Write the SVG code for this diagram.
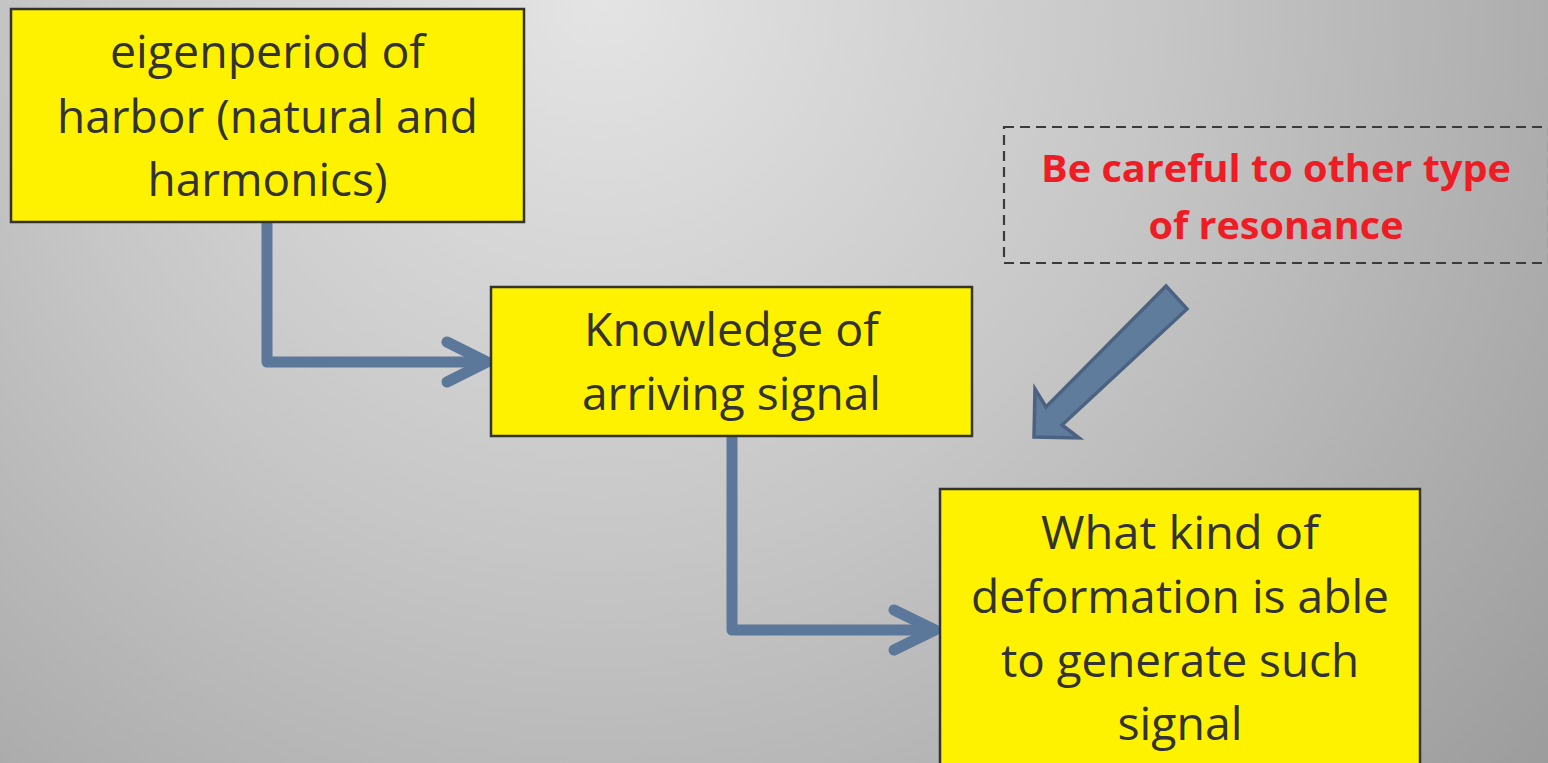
<svg xmlns="http://www.w3.org/2000/svg" width="1548" height="763" viewBox="0 0 1548 763">
<defs>
<radialGradient id="bg" cx="600" cy="0" r="1250" gradientUnits="userSpaceOnUse">
<stop offset="0" stop-color="#e4e4e4"/>
<stop offset="0.45" stop-color="#c6c6c6"/>
<stop offset="1" stop-color="#9a9a9a"/>
</radialGradient>
<style>
.box{fill:#fff200;stroke:#333;stroke-width:2.5}
.t{font-family:"Open Sans","Noto Sans",sans-serif;font-size:45px;fill:#333;text-anchor:middle}
.r{font-family:"Open Sans","Noto Sans",sans-serif;font-size:38px;font-weight:bold;fill:#ee1c25;text-anchor:middle}
.c{fill:none;stroke:#5b7799;stroke-width:11;stroke-linecap:round;stroke-linejoin:round}
</style>
</defs>
<rect width="1548" height="763" fill="url(#bg)"/>
<g id="connectors">
<polyline class="c" points="267,224 267,362 486,362"/>
<polyline class="c" points="447,342 487,362 447,382"/>
<polyline class="c" points="732,438 732,630 934,630"/>
<polyline class="c" points="894,610 935,630 894,650"/>
<polygon points="1166,286 1187,309 1062,425 1079,438 1034,437 1035,389 1046,407" fill="#607c9c" stroke="#4b6380" stroke-width="3.5" stroke-linejoin="miter"/>
</g>
<g id="n1">
<rect class="box" x="11" y="9" width="513" height="213"/>
<text class="t" x="267.5" y="68" textLength="315" lengthAdjust="spacingAndGlyphs">eigenperiod of</text>
<text class="t" x="267.5" y="133" textLength="421" lengthAdjust="spacingAndGlyphs">harbor (natural and</text>
<text class="t" x="267.5" y="196" textLength="240" lengthAdjust="spacingAndGlyphs">harmonics)</text>
</g>
<g id="n2">
<rect class="box" x="491" y="287" width="481" height="149"/>
<text class="t" x="731.5" y="346" textLength="295" lengthAdjust="spacingAndGlyphs">Knowledge of</text>
<text class="t" x="731.5" y="410" textLength="299" lengthAdjust="spacingAndGlyphs">arriving signal</text>
</g>
<g id="n3">
<rect class="box" x="940" y="489" width="480" height="290"/>
<text class="t" x="1180" y="549" textLength="278" lengthAdjust="spacingAndGlyphs">What kind of</text>
<text class="t" x="1180" y="613" textLength="418" lengthAdjust="spacingAndGlyphs">deformation is able</text>
<text class="t" x="1180" y="677" textLength="358" lengthAdjust="spacingAndGlyphs">to generate such</text>
<text class="t" x="1180" y="740" textLength="125" lengthAdjust="spacingAndGlyphs">signal</text>
</g>
<g id="note">
<rect x="1004" y="127" width="545" height="136" fill="none" stroke="#3a3a3a" stroke-width="2.2" stroke-dasharray="10,6"/>
<text class="r" x="1276" y="182" textLength="470" lengthAdjust="spacingAndGlyphs">Be careful to other type</text>
<text class="r" x="1276" y="239" textLength="255" lengthAdjust="spacingAndGlyphs">of resonance</text>
</g>
</svg>
